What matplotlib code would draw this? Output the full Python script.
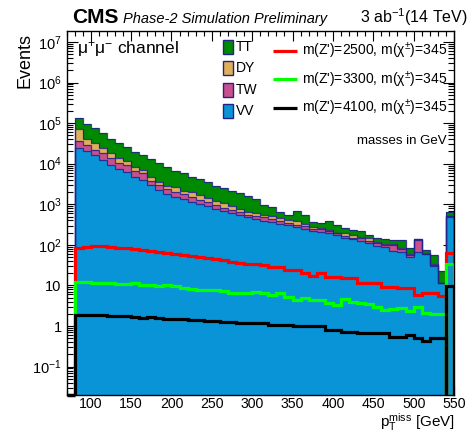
import numpy as np
import matplotlib
matplotlib.use('Agg')
import matplotlib.pyplot as plt
from matplotlib.ticker import FixedLocator, FixedFormatter, LogLocator, NullFormatter, MultipleLocator
from matplotlib.patches import Rectangle

plt.rcParams['font.family'] = ['Liberation Sans', 'DejaVu Sans']
plt.rcParams['mathtext.fontset'] = 'custom'
plt.rcParams['mathtext.rm'] = 'Liberation Sans'
plt.rcParams['mathtext.it'] = 'Liberation Sans:italic'
plt.rcParams['mathtext.bf'] = 'Liberation Sans:bold'

# ---------------- data ----------------
pt_edges = np.arange(80, 551, 10)   # 47 bins, last one = 540-550

vv = [24000, 20900, 16200, 12300, 9330, 7240, 6310, 4790, 3980, 3020,
      2240, 1780, 1510, 1320, 1150, 1000, 891, 776, 692, 603,
      537, 479, 437, 398, 363, 331, 302, 275, 251, 224,
      209, 191, 174, 151, 138, 126, 110, 95, 87, 72,
      68, 49, 68, 58, 31, 11.2, 490]
tw = [13200, 7950, 6170, 5890, 4160, 2990, 3020, 1975, 1770, 780,
      780, 566, 530, 460, 366, 259, 257, 179, 140, 121,
      94, 71, 64, 81, 74, 49, 53, 27, 37, 27,
      31, 28, 17, 15, 13, 19, 16, 15, 13, 28,
      11, 6, 64, 2, 1, 0, 23]
dy = [33600, 12850, 9240, 5790, 4710, 3260, 2420, 1370, 1160, 985,
      610, 474, 590, 360, 480, 400, 265, 247, 215, 167,
      128, 111, 102, 58, 64, 77, 62, 96, 43, 31,
      23, 10, 9, 25, 23, 13, 19, 10, 5, 5,
      4, 3, 6, 3, 2, 0.3, 12]
tt = [61000, 56000, 42500, 32200, 23500, 19600, 14550, 11800, 9300, 8100,
      6600, 5310, 3980, 3620, 2790, 2510, 2220, 1680, 1465, 1247,
      1146, 924, 746, 418, 370, 204, 133, 294, 219, 90,
      76, 169, 109, 66, 60, 56, 29, 25, 33, 27,
      49, 25, 1, 11, 22, 11.8, 106]

sig_2500 = [83.2, 89.1, 91.2, 91.2, 89.1, 85.1, 83.2, 79.4, 75.9, 72.4,
            67.6, 63.1, 60.3, 57.5, 53.7, 50.1, 47.9, 44.7, 41.7, 38.0,
            36.3, 34.7, 33.1, 31.6, 28.2, 28.2, 24.0, 24.0, 20.0, 17.0,
            20.0, 16.6, 16.6, 15.1, 15.1, 11.2, 11.2, 11.2, 9.3, 9.3,
            8.5, 8.5, 5.9, 6.6, 6.5, 5.5, 61.7]
sig_3300 = [12.3, 12.3, 11.5, 11.2, 11.2, 11.0, 10.7, 11.2, 10.5, 10.0,
            9.5, 10.0, 9.8, 8.9, 8.3, 7.8, 7.8, 7.6, 7.1, 6.6,
            6.6, 6.6, 6.8, 6.6, 5.9, 6.5, 5.2, 4.4, 4.8, 4.3,
            4.3, 3.8, 3.3, 4.6, 4.0, 3.8, 3.5, 3.0, 2.5, 2.6,
            2.75, 2.4, 2.9, 2.05, 2.0, 2.0, 33.1]
sig_4100 = [1.91, 1.91, 1.86, 1.86, 1.78, 1.74, 1.74, 1.66, 1.58, 1.66,
            1.58, 1.51, 1.51, 1.45, 1.41, 1.38, 1.32, 1.32, 1.26, 1.26,
            1.20, 1.20, 1.17, 1.17, 1.07, 1.07, 1.07, 0.98, 0.98, 0.98,
            0.98, 0.79, 0.79, 0.72, 0.72, 0.69, 0.69, 0.69, 0.69, 0.55,
            0.55, 0.60, 0.50, 0.44, 0.50, 0.50, 9.8]

bkg_names = ['VV', 'TW', 'DY', 'TT']
bkg_values = [vv, tw, dy, tt]
bkg_colors = ['#0a94d8', '#c8508c', '#e0b058', '#008a00']
sig_labels = ["m(Z')=2500, m(χ$^{\\pm}$)=345",
              "m(Z')=3300, m(χ$^{\\pm}$)=345",
              "m(Z')=4100, m(χ$^{\\pm}$)=345"]
sig_values = [sig_2500, sig_3300, sig_4100]
sig_colors = ['#ff0000', '#00ff00', '#000000']

ytick_vals = [1e-1, 1, 10, 1e2, 1e3, 1e4, 1e5, 1e6, 1e7]
ytick_labels = ['$10^{-1}$', '1', '10', '$10^{2}$', '$10^{3}$', '$10^{4}$',
                '$10^{5}$', '$10^{6}$', '$10^{7}$']

x_min, x_max = 70, 550
y_min, y_max = 0.02, 1.86e7

# ---------------- figure ----------------
W, H = 470, 432
fig = plt.figure(figsize=(W / 100, H / 100), dpi=100)
L, R, T, B = 66.5, 454, 31, 395
ax = fig.add_axes([L / W, 1 - B / H, (R - L) / W, (B - T) / H])
ax.set_yscale('log')
ax.set_xlim(x_min, x_max)
ax.set_ylim(y_min, y_max)

edge_col = '#22228a'
cum = np.zeros(len(vv))
for vals, col in zip(bkg_values, bkg_colors):
    lower = cum.copy()
    cum = cum + np.asarray(vals, dtype=float)
    base = np.where(lower > 0, lower, 1e-4)
    ax.stairs(cum, pt_edges, baseline=base, fill=True, facecolor=col,
              edgecolor='none', lw=0, zorder=2)
for_lines = np.zeros(len(vv))
for vals in bkg_values:
    for_lines = for_lines + np.asarray(vals, dtype=float)
    ax.stairs(for_lines, pt_edges, baseline=1e-4, color=edge_col, lw=0.9,
              alpha=0.85, zorder=3)

for vals, col in zip(sig_values, sig_colors):
    v = np.asarray(vals, dtype=float)
    ax.stairs(v[:-1], pt_edges[:-1], baseline=1e-4, color=col, lw=2.3, zorder=4)
    ax.stairs(v[-1:], pt_edges[-2:], baseline=1e-4, color=col, lw=2.3, zorder=4)
ax.plot([x_min, pt_edges[0]], [y_min, y_min], color='black', lw=2.5,
        clip_on=False, zorder=5, solid_capstyle='butt')

# ticks
ax.yaxis.set_major_locator(FixedLocator(ytick_vals))
ax.yaxis.set_major_formatter(FixedFormatter(ytick_labels))
ax.yaxis.set_minor_locator(LogLocator(base=10, subs=np.arange(2, 10), numticks=100))
ax.yaxis.set_minor_formatter(NullFormatter())
ax.xaxis.set_major_locator(MultipleLocator(50))
ax.xaxis.set_minor_locator(MultipleLocator(10))
ax.tick_params(axis='both', which='both', direction='in', top=True, right=True,
               width=0.8, labelsize=10.5)
ax.tick_params(axis='x', labelsize=10.2)
ax.tick_params(axis='y', which='major', length=8)
ax.tick_params(axis='y', which='minor', length=4)
ax.tick_params(axis='x', which='major', length=7, pad=1.5)
ax.tick_params(axis='x', which='minor', length=3.5)
for s in ax.spines.values():
    s.set_linewidth(1.0)
    s.set_zorder(6)

# axis titles
fig.text(25 / W, 1 - 33 / H, 'Events', rotation=90, ha='center', va='top',
         fontsize=13)
fig.text(455 / W, 1 - 427 / H, r'p$_{\mathregular{T}}^{\mathregular{miss}}$ [GeV]',
         ha='right', va='baseline', fontsize=11)

# header
fig.text(72 / W, 1 - 23 / H, 'CMS', fontsize=15, fontweight='bold',
         ha='left', va='baseline')
fig.text(123 / W, 1 - 23 / H, 'Phase-2 Simulation Preliminary', fontsize=10.5,
         style='italic', ha='left', va='baseline')
fig.text(468 / W, 1 - 23 / H, r'3 ab$^{\mathregular{-1}}$(14 TeV)', fontsize=11.5,
         ha='right', va='baseline')

# in-plot texts and legends
ax.text(0.026, 0.952, r'μ$^{+}$μ$^{-}$ channel', transform=ax.transAxes,
        fontsize=12.5, ha='left', va='center', zorder=7)
leg_order = ['TT', 'DY', 'TW', 'VV']
leg_y = [0.957, 0.8975, 0.838, 0.781]
for name, yc in zip(leg_order, leg_y):
    col = bkg_colors[bkg_names.index(name)]
    ax.add_patch(Rectangle((0.403, yc - 0.019), 0.0276, 0.038,
                           transform=ax.transAxes, facecolor=col,
                           edgecolor=edge_col, lw=1.0, zorder=7))
    ax.text(0.437, yc, name, transform=ax.transAxes, fontsize=10,
            ha='left', va='center', zorder=7)
sig_leg_y = [0.946, 0.867, 0.788]
for lab, col, yc in zip(sig_labels, sig_colors, sig_leg_y):
    ax.plot([0.534, 0.594], [yc, yc], transform=ax.transAxes, color=col,
            lw=2.3, zorder=7, solid_capstyle='butt')
    ax.text(0.607, yc, lab, transform=ax.transAxes, fontsize=10,
            ha='left', va='center', zorder=7)
ax.text(0.982, 0.698, 'masses in GeV', transform=ax.transAxes, fontsize=9.5,
        ha='right', va='center', zorder=7)

fig.savefig('out.png', dpi=100)
